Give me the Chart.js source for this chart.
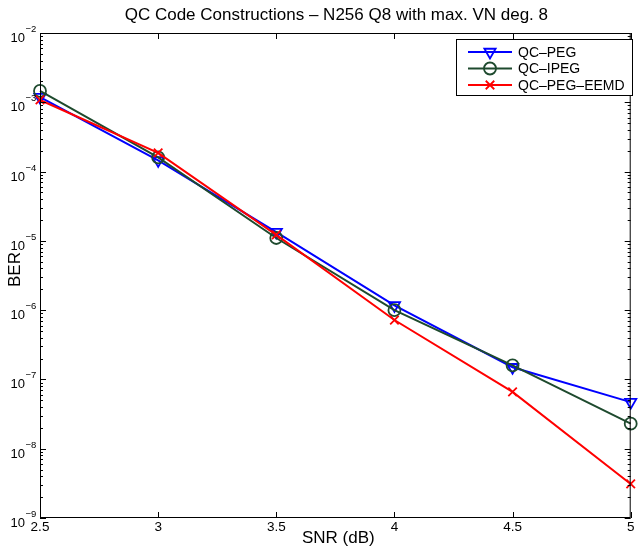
<!DOCTYPE html>
<html>
<head>
<meta charset="utf-8">
<script src="https://cdn.jsdelivr.net/npm/chart.js@4.4.1/dist/chart.umd.min.js"></script>
<style>
  html, body { margin: 0; padding: 0; background: #fff; }
  #wrap { width: 639px; height: 547px; }
</style>
</head>
<body>
<div id="wrap"><canvas id="ber" width="639" height="547"></canvas></div>
<script>
// values
const snr = [2.5, 3, 3.5, 4, 4.5, 5];
const pegBer = [1.19e-3, 1.45e-4, 1.34e-5, 1.17e-6, 1.5e-7, 4.7e-8];
const ipegBer = [1.46e-3, 1.6e-4, 1.1e-5, 1.0e-6, 1.6e-7, 2.3e-8];
const eemdBer = [1.08e-3, 1.86e-4, 1.22e-5, 7.2e-7, 6.6e-8, 3.1e-9];

const xTicks = [2.5, 3, 3.5, 4, 4.5, 5];
const yExps = [-2, -3, -4, -5, -6, -7, -8, -9];

const titleText = 'QC Code Constructions \u2013 N256 Q8 with max. VN deg. 8';
const FONT = '"Liberation Sans", Arial, Helvetica, sans-serif';

const toXY = (xs, ys) => xs.map((x, i) => ({ x: x, y: ys[i] }));

// matlab-ish axes: box, inward ticks, superscript labels, legend
const matlabAxes = {
  id: 'matlabAxes',
  afterDraw(chart) {
    const ctx = chart.ctx;
    const a = chart.chartArea;
    const xs = chart.scales.x;
    const ys = chart.scales.y;
    ctx.save();

    // box
    ctx.strokeStyle = '#000';
    ctx.lineWidth = 1;
    ctx.strokeRect(a.left + 0.5, a.top + 0.5, a.right - a.left - 1, a.bottom - a.top - 1);

    // x ticks (top + bottom, inward)
    ctx.beginPath();
    xTicks.forEach(v => {
      const px = Math.round(xs.getPixelForValue(v)) + 0.5;
      ctx.moveTo(px, a.bottom); ctx.lineTo(px, a.bottom - 6);
      ctx.moveTo(px, a.top); ctx.lineTo(px, a.top + 6);
    });
    // y ticks, major + minor, both sides
    yExps.forEach(e => {
      for (let m = 1; m <= 9; m++) {
        const v = m * Math.pow(10, e);
        if (v > ys.max * 1.0001 || v < ys.min * 0.9999) continue;
        const py = Math.round(ys.getPixelForValue(v)) + 0.5;
        const len = m === 1 ? 6 : 3;
        ctx.moveTo(a.left, py); ctx.lineTo(a.left + len, py);
        ctx.moveTo(a.right, py); ctx.lineTo(a.right - len, py);
      }
    });
    ctx.stroke();

    ctx.fillStyle = '#000';
    // x tick labels
    ctx.font = '13.5px ' + FONT;
    ctx.textAlign = 'center';
    ctx.textBaseline = 'top';
    xTicks.forEach(v => {
      ctx.fillText(String(v), xs.getPixelForValue(v), a.bottom + 3);
    });

    // y tick labels 10^k
    yExps.forEach(e => {
      const py = ys.getPixelForValue(Math.pow(10, e));
      ctx.textBaseline = 'alphabetic';
      ctx.font = '13px ' + FONT;
      ctx.textAlign = 'right';
      ctx.fillText('10', 25, py + 9);
      ctx.font = '9.5px ' + FONT;
      ctx.textAlign = 'left';
      ctx.fillText('\u2212' + Math.abs(e), 25.5, py - 1);
    });

    // title + axis titles
    ctx.font = '17px ' + FONT;
    ctx.textAlign = 'center';
    ctx.textBaseline = 'alphabetic';
    const cx = (a.left + a.right) / 2;
    ctx.fillText(titleText, cx + 1, 20);
    ctx.fillText('SNR (dB)', cx + 3, 543);
    ctx.save();
    ctx.translate(20, (a.top + a.bottom) / 2 - 6);
    ctx.rotate(-Math.PI / 2);
    ctx.fillText('BER', 0, 0);
    ctx.restore();

    // legend
    const lx = 456, ly = 39, lw = 176, lh = 56;
    ctx.fillStyle = '#fff';
    ctx.fillRect(lx, ly, lw, lh);
    ctx.strokeStyle = '#000';
    ctx.strokeRect(lx + 0.5, ly + 0.5, lw, lh);
    ctx.font = '14px ' + FONT;
    ctx.textAlign = 'left';
    ctx.textBaseline = 'middle';
    chart.data.datasets.forEach((ds, i) => {
      const y = ly + 13 + i * 16.5;
      ctx.strokeStyle = ds.borderColor;
      ctx.lineWidth = ds.borderWidth;
      ctx.beginPath();
      ctx.moveTo(lx + 12, y); ctx.lineTo(lx + 56, y);
      ctx.stroke();
      ctx.fillStyle = 'rgba(0,0,0,0)';
      ctx.lineWidth = ds.pointBorderWidth;
      Chart.helpers.drawPoint(ctx, {
        pointStyle: ds.pointStyle,
        rotation: ds.pointRotation || 0,
        radius: ds.pointRadius,
        borderWidth: ds.pointBorderWidth
      }, lx + 34, y);
      ctx.fillStyle = '#000';
      ctx.fillText(ds.label, lx + 62, y + 1);
    });

    ctx.restore();
  }
};

new Chart(document.getElementById('ber'), {
  type: 'line',
  data: {
    datasets: [
      {
        label: 'QC\u2013PEG',
        data: toXY(snr, pegBer),
        borderColor: '#0000ff',
        pointBorderColor: '#0000ff',
        pointBackgroundColor: 'rgba(0,0,0,0)',
        borderWidth: 2,
        pointStyle: 'triangle',
        pointRotation: 180,
        pointRadius: 6.5,
        pointBorderWidth: 1.8,
        order: 2
      },
      {
        label: 'QC\u2013IPEG',
        data: toXY(snr, ipegBer),
        borderColor: '#1e4a2e',
        pointBorderColor: '#1e4a2e',
        pointBackgroundColor: 'rgba(0,0,0,0)',
        borderWidth: 2,
        pointStyle: 'circle',
        pointRadius: 6,
        pointBorderWidth: 1.8,
        order: 1
      },
      {
        label: 'QC\u2013PEG\u2013EEMD',
        data: toXY(snr, eemdBer),
        borderColor: '#ff0000',
        pointBorderColor: '#ff0000',
        pointBackgroundColor: 'rgba(0,0,0,0)',
        borderWidth: 2,
        pointStyle: 'crossRot',
        pointRadius: 6,
        pointBorderWidth: 1.8,
        order: 0
      }
    ]
  },
  options: {
    responsive: false,
    animation: false,
    devicePixelRatio: 1,
    layout: { padding: { left: 40, right: 3, top: 33, bottom: 29 } },
    elements: { line: { tension: 0 } },
    datasets: { line: { clip: false } },
    plugins: {
      legend: { display: false },
      title: { display: false },
      tooltip: { enabled: false }
    },
    scales: {
      x: { type: 'linear', min: 2.5, max: 5, display: false },
      y: { type: 'logarithmic', min: 1e-9, max: 1e-2, display: false }
    }
  },
  plugins: [matlabAxes]
});
</script>
</body>
</html>
